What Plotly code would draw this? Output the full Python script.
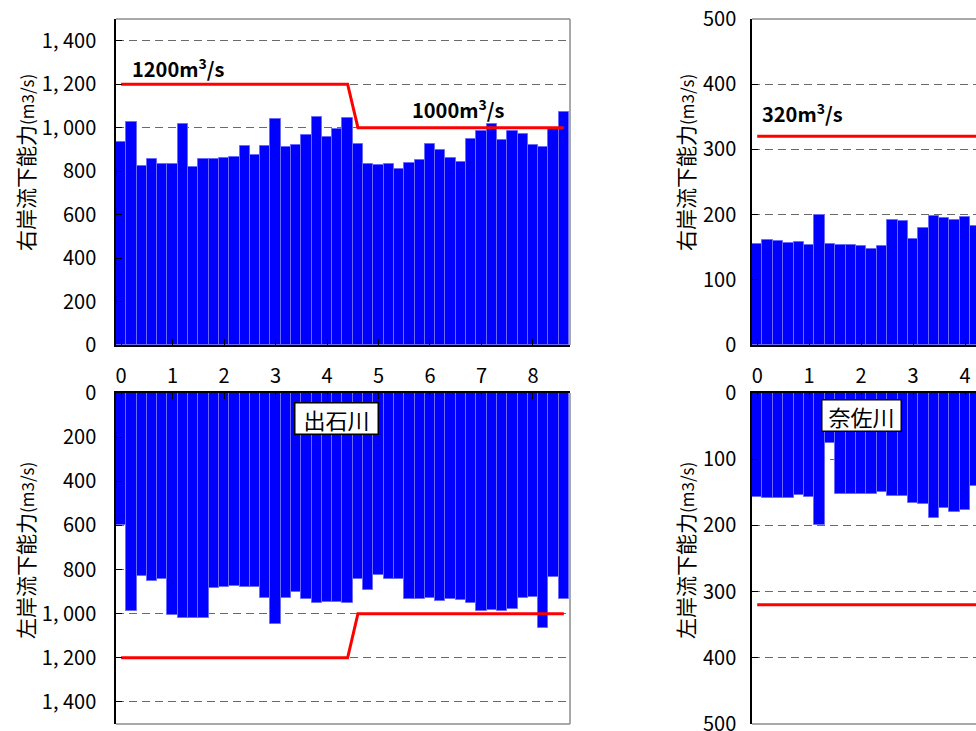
import plotly.graph_objects as go

# ---------------- data ----------------
dist_ishi = [round(0.2 * i, 1) for i in range(44)]
ishi_right = [932, 1027, 823, 855, 835, 832, 1015, 819, 854, 858,
              860, 865, 915, 874, 915, 1041, 911, 918, 964, 1047,
              958, 995, 1044, 927, 832, 828, 831, 808, 837, 849,
              924, 897, 860, 840, 949, 984, 1015, 943, 984, 973,
              918, 909, 993, 1072]
ishi_left = [600, 986, 829, 852, 841, 1004, 1018, 1018, 1018, 885,
             881, 873, 879, 879, 929, 1045, 927, 902, 933, 950,
             948, 945, 951, 841, 891, 826, 841, 844, 932, 932,
             929, 941, 935, 938, 950, 986, 982, 986, 979, 927,
             923, 1065, 832, 932]
ishi_design_x = [0, 4.4, 4.6, 8.6]
ishi_design_y = [1200, 1200, 1000, 1000]

dist_nasa = [round(0.2 * i, 1) for i in range(22)]
nasa_right = [155, 161, 159, 157, 158, 153, 200, 155, 153, 153,
              152, 148, 152, 191, 190, 163, 180, 198, 195, 191,
              196, 182]
nasa_left = [157, 159, 158, 158, 154, 157, 200, 75, 153, 152,
             152, 152, 150, 156, 155, 166, 167, 189, 173, 179,
             176, 141]
nasa_design_x = [0, 4.4]
nasa_design_y = [320, 320]

ishi_ticks = [0, 200, 400, 600, 800, 1000, 1200, 1400]
ishi_ticktext = ["0", "200", "400", "600", "800", "1, 000", "1, 200", "1, 400"]
nasa_ticks = [0, 100, 200, 300, 400, 500]
nasa_ticktext = ["0", "100", "200", "300", "400", "500"]
x_ticks_ishi = list(range(9))
x_ticks_nasa = list(range(5))

# ---------------- style ----------------
FONT = "Noto Sans CJK JP"
BAR = "#0000FF"
BAR_EDGE = "#6a6aff"
RED = "#FF0000"
GRID = "#6a6a6a"

fig = go.Figure()

def add_bars(x, y, xa, ya):
    fig.add_trace(go.Bar(x=x, y=y, width=0.2, xaxis=xa, yaxis=ya,
                         marker=dict(color=BAR, line=dict(color=BAR_EDGE, width=1)),
                         showlegend=False))

def add_line(x, y, xa, ya):
    fig.add_trace(go.Scatter(x=x, y=y, mode="lines", xaxis=xa, yaxis=ya,
                             line=dict(color=RED, width=3), showlegend=False))

add_bars(dist_ishi, ishi_right, "x", "y")
add_line(ishi_design_x, ishi_design_y, "x", "y")
add_bars(dist_ishi, ishi_left, "x2", "y2")
add_line(ishi_design_x, ishi_design_y, "x2", "y2")
add_bars(dist_nasa, nasa_right, "x3", "y3")
add_line(nasa_design_x, nasa_design_y, "x3", "y3")
add_bars(dist_nasa, nasa_left, "x4", "y4")
add_line(nasa_design_x, nasa_design_y, "x4", "y4")

top_dom = [1 - 345 / 731, 1 - 19 / 731]
bot_dom = [1 - 724 / 731, 1 - 393 / 731]
left_dom = [116 / 976, 570 / 976]
right_dom = [752 / 976, 1.0]

tickfont = dict(family=FONT, size=20, color="black")

def xaxis(dom, rng, anchor, side, labels, tv):
    return dict(domain=dom, range=rng, anchor=anchor, side=side,
                tickvals=tv, ticks="inside", ticklen=6, tickcolor="black",
                showticklabels=labels, tickfont=tickfont,
                ticklabelstandoff=12 if labels else 0,
                showline=True, linecolor="black", linewidth=1.5,
                showgrid=False, zeroline=False, fixedrange=True,
                automargin=False)

def yaxis(dom, rng, anchor, tv, tt, standoff):
    return dict(domain=dom, range=rng, anchor=anchor,
                tickvals=tv, ticktext=tt, ticks="inside", ticklen=6,
                tickcolor="black", tickfont=tickfont, ticklabelstandoff=standoff,
                ticklabeloverflow="allow",
                showline=True, linecolor="black", linewidth=1.5,
                showgrid=True, gridcolor=GRID, gridwidth=1, griddash="8px,5px",
                zeroline=False, fixedrange=True, automargin=False)

fig.update_layout(
    width=976, height=731,
    margin=dict(l=0, r=0, t=0, b=0, pad=0, autoexpand=False),
    paper_bgcolor="white", plot_bgcolor="white",
    bargap=0,
    xaxis=xaxis(left_dom, [-0.1, 8.72], "y", "bottom", True, x_ticks_ishi),
    yaxis=yaxis(top_dom, [0, 1500], "x", ishi_ticks, ishi_ticktext, 14),
    xaxis2=xaxis(left_dom, [-0.1, 8.72], "y2", "top", False, x_ticks_ishi),
    yaxis2=yaxis(bot_dom, [1500, 0], "x2", ishi_ticks, ishi_ticktext, 14),
    xaxis3=xaxis(right_dom, [-0.1, 4.21], "y3", "bottom", True, x_ticks_nasa),
    yaxis3=yaxis(top_dom, [0, 500], "x3", nasa_ticks, nasa_ticktext, 10),
    xaxis4=xaxis(right_dom, [-0.1, 4.21], "y4", "top", False, x_ticks_nasa),
    yaxis4=yaxis(bot_dom, [500, 0], "x4", nasa_ticks, nasa_ticktext, 10),
)

# frame borders (gray) on sides without axis lines
shapes = []
gray = dict(color="#8c8c8c", width=1.5)
shapes.append(dict(type="line", xref="paper", yref="paper", x0=left_dom[0], x1=left_dom[1], y0=top_dom[1], y1=top_dom[1], line=gray))
shapes.append(dict(type="line", xref="paper", yref="paper", x0=left_dom[1], x1=left_dom[1], y0=top_dom[0], y1=top_dom[1], line=gray))
shapes.append(dict(type="line", xref="paper", yref="paper", x0=left_dom[0], x1=left_dom[1], y0=bot_dom[0], y1=bot_dom[0], line=gray))
shapes.append(dict(type="line", xref="paper", yref="paper", x0=left_dom[1], x1=left_dom[1], y0=bot_dom[0], y1=bot_dom[1], line=gray))
shapes.append(dict(type="line", xref="paper", yref="paper", x0=right_dom[0], x1=right_dom[1], y0=top_dom[1], y1=top_dom[1], line=gray))
shapes.append(dict(type="line", xref="paper", yref="paper", x0=right_dom[0], x1=right_dom[1], y0=bot_dom[0], y1=bot_dom[0], line=gray))
fig.update_layout(shapes=shapes)

lab = dict(family=FONT, size=20, color="black")
boxfont = dict(family=FONT, size=22, color="black")
ann = [
    dict(x=1.11, y=1275, xref="x", yref="y", text="<b>1200m<sup>3</sup>/s</b>", showarrow=False, font=lab),
    dict(x=6.55, y=1085, xref="x", yref="y", text="<b>1000m<sup>3</sup>/s</b>", showarrow=False, font=lab),
    dict(x=0.875, y=356, xref="x3", yref="y3", text="<b>320m<sup>3</sup>/s</b>", showarrow=False, font=lab),
    dict(x=4.19, y=115, xref="x2", yref="y2", text="出石川", showarrow=False,
         font=boxfont, bgcolor="white", width=80, height=28,
         bordercolor="black", borderwidth=1.5, borderpad=1),
    dict(x=2.01, y=34, xref="x4", yref="y4", text="奈佐川", showarrow=False,
         font=boxfont, bgcolor="white", width=76, height=28,
         bordercolor="black", borderwidth=1.5, borderpad=1),
]
title_r = "右岸流下能力<span style='font-size:17px'>(m3/s)</span>"
title_l = "左岸流下能力<span style='font-size:17px'>(m3/s)</span>"
tfont = dict(family=FONT, size=21, color="black")
for xpx, ypx, t in [(25, 163, title_r), (25, 551, title_l), (685, 163, title_r), (685, 551, title_l)]:
    ann.append(dict(x=xpx / 976, y=1 - ypx / 731, xref="paper", yref="paper", text=t,
                    textangle=-90, showarrow=False, font=tfont,
                    xanchor="center", yanchor="middle"))
fig.update_layout(annotations=ann)

fig.write_html("out.html", config={"displayModeBar": False},
               post_script="document.body.style.margin='0';document.body.style.overflow='hidden';")
